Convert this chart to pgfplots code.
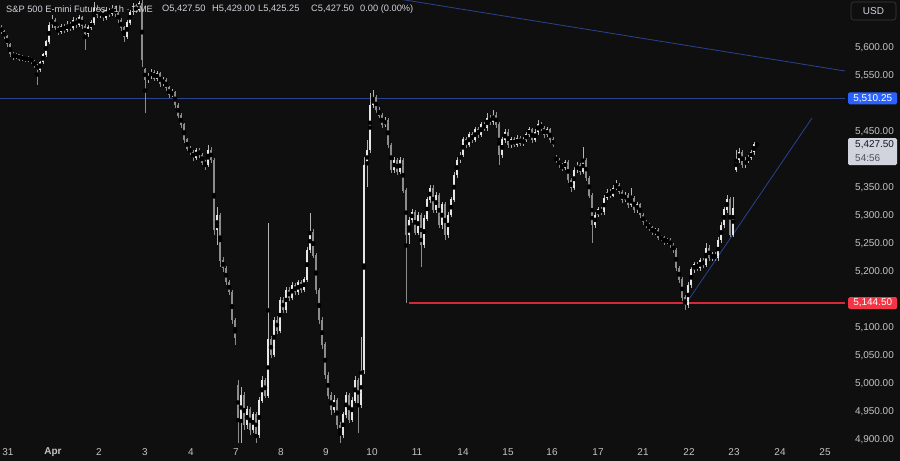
\documentclass[border=0pt]{standalone}
\usepackage{pgfplots}
\pgfplotsset{compat=1.18}
\usepackage{pgfplotstable}
\usepackage{fontspec}
\setmainfont{Liberation Sans}
\definecolor{bg}{HTML}{0F0F0F}
\definecolor{txt}{HTML}{D1D4DC}
\definecolor{axtxt}{HTML}{C4C4C4}
\definecolor{upc}{HTML}{E6E6E6}
\definecolor{upw}{HTML}{B4B4B4}
\definecolor{dnc}{HTML}{8C8C8C}
\definecolor{hline}{HTML}{2A4290}
\definecolor{supportred}{RGB}{214,40,56}
\definecolor{tagblue}{HTML}{2962FF}
\definecolor{tagred}{HTML}{F23645}
\definecolor{taggray}{HTML}{D1D4DC}
\definecolor{tagtxt}{HTML}{131722}
\definecolor{boxc}{HTML}{3A3A3A}

\pgfplotstableread{
x o h l c
1 5636 5641 5625 5629
4 5629 5632 5616 5621
7 5621 5623 5602 5607
10 5607 5609 5584 5589
13 5589 5593 5579 5584
16 5584 5591 5580 5588
19 5588 5590 5577 5580
22 5580 5588 5577 5584
25 5584 5586 5575 5579
28 5579 5586 5575 5582
31 5582 5584 5572 5577
34 5577 5579 5564 5568
37 5568 5571 5534 5562
40 5562 5577 5557 5575
43 5575 5591 5572 5588
46 5588 5614 5584 5611
49 5611 5646 5607 5641
52 5641 5659 5636 5650
55 5650 5654 5632 5636
58 5636 5639 5623 5629
61 5629 5643 5625 5639
64 5639 5643 5627 5632
67 5632 5648 5629 5643
70 5643 5646 5630 5636
73 5636 5655 5632 5650
76 5650 5654 5636 5641
79 5641 5659 5638 5654
82 5654 5657 5634 5639
85 5639 5643 5596 5625
88 5625 5641 5620 5636
91 5636 5650 5632 5646
94 5646 5682 5641 5671
97 5671 5677 5654 5659
100 5659 5670 5654 5664
103 5664 5668 5648 5654
106 5654 5673 5650 5668
109 5668 5671 5656 5661
112 5661 5677 5657 5671
115 5671 5675 5655 5661
118 5661 5664 5645 5650
121 5650 5654 5630 5636
124 5636 5639 5611 5621
127 5621 5650 5616 5646
130 5646 5668 5641 5664
133 5664 5680 5659 5675
136 5675 5679 5663 5668
139 5668 5684 5664 5679
142 5679 5690 5566 5579
145 5561 5564 5484 5543
148 5543 5555 5538 5550
151 5550 5562 5545 5557
154 5557 5560 5541 5546
157 5546 5559 5541 5554
160 5554 5557 5530 5536
163 5536 5548 5532 5543
166 5543 5546 5523 5529
169 5529 5532 5511 5516
172 5516 5527 5512 5521
175 5521 5523 5493 5498
178 5498 5502 5475 5480
181 5480 5484 5457 5463
184 5463 5466 5430 5436
187 5436 5439 5416 5421
190 5421 5425 5409 5414
193 5414 5418 5398 5404
196 5404 5421 5400 5418
199 5418 5421 5404 5409
202 5409 5413 5391 5396
205 5396 5400 5382 5391
208 5391 5427 5388 5418
211 5418 5423 5395 5400
214 5400 5404 5266 5275
217 5275 5316 5248 5302
220 5302 5305 5209 5221
223 5221 5227 5200 5207
226 5207 5211 5177 5182
229 5182 5186 5159 5164
232 5164 5168 5107 5114
235 5114 5118 5070 5082
238 4998 5007 4864 4936
241 4936 4995 4873 4980
244 4980 4986 4918 4927
247 4927 4960 4920 4954
250 4954 4959 4909 4918
253 4918 4950 4913 4945
256 4945 4950 4864 4909
259 4909 4977 4904 4971
262 4971 5014 4966 5007
265 5007 5011 4975 4980
268 4980 5288 4975 5079
271 5079 5086 5046 5052
274 5052 5120 5048 5114
277 5114 5121 5090 5096
280 5096 5155 5091 5150
283 5150 5155 5127 5132
286 5132 5173 5127 5168
289 5168 5173 5148 5154
292 5154 5182 5150 5177
295 5177 5180 5159 5164
298 5164 5186 5159 5182
301 5182 5186 5163 5168
304 5168 5191 5164 5186
307 5186 5245 5182 5239
310 5239 5305 5234 5271
313 5271 5277 5225 5230
316 5230 5234 5161 5168
319 5168 5172 5107 5114
322 5114 5120 5063 5070
325 5070 5075 5009 5016
328 5016 5022 4973 4980
331 4980 4986 4945 4954
334 4954 4980 4948 4971
337 4971 4975 4920 4927
340 4927 4932 4891 4909
343 4909 4950 4904 4945
346 4945 4986 4940 4980
349 4980 4984 4930 4936
352 4936 4977 4932 4971
355 4971 5014 4966 5007
358 5007 5011 4913 4963
361 4963 5084 4957 5025
364 5025 5405 5018 5391
367 5391 5436 5352 5418
370 5418 5520 5413 5498
373 5498 5525 5493 5511
376 5511 5516 5484 5489
379 5489 5495 5475 5480
382 5480 5484 5457 5463
385 5463 5477 5459 5471
388 5471 5475 5421 5427
391 5427 5430 5377 5382
394 5382 5405 5377 5400
397 5400 5404 5373 5379
400 5379 5405 5375 5400
403 5400 5404 5341 5346
406 5346 5350 5144.5 5266
409 5266 5298 5250 5293
412 5293 5312 5288 5307
415 5307 5311 5266 5271
418 5271 5307 5266 5302
421 5302 5305 5209 5248
424 5248 5302 5243 5296
427 5296 5334 5291 5329
430 5329 5355 5323 5350
433 5350 5355 5305 5311
436 5311 5343 5305 5337
439 5337 5341 5279 5284
442 5284 5325 5277 5320
445 5320 5325 5257 5266
448 5266 5307 5261 5302
451 5302 5334 5298 5329
454 5329 5379 5325 5373
457 5373 5405 5368 5400
460 5400 5414 5395 5409
463 5409 5441 5405 5436
466 5436 5441 5421 5427
469 5427 5450 5423 5445
472 5445 5450 5430 5436
475 5436 5459 5432 5454
478 5454 5459 5439 5445
481 5445 5468 5441 5463
484 5463 5468 5452 5457
487 5457 5484 5452 5475
490 5475 5480 5463 5468
493 5468 5489 5463 5480
496 5480 5486 5457 5463
499 5463 5468 5391 5409
502 5409 5441 5404 5436
505 5436 5455 5430 5450
508 5450 5455 5421 5427
511 5427 5441 5421 5436
514 5436 5441 5423 5427
517 5427 5445 5423 5439
520 5439 5443 5425 5430
523 5430 5441 5425 5436
526 5436 5450 5432 5445
529 5445 5459 5441 5454
532 5454 5457 5430 5436
535 5436 5455 5432 5450
538 5450 5471 5445 5463
541 5463 5468 5452 5457
544 5457 5461 5439 5445
547 5445 5459 5441 5454
550 5454 5457 5430 5436
553 5436 5441 5423 5427
556 5404 5409 5395 5400
559 5400 5404 5386 5391
562 5391 5395 5380 5386
565 5386 5400 5382 5396
568 5396 5400 5359 5364
571 5364 5368 5343 5350
574 5350 5388 5346 5382
577 5382 5396 5377 5391
580 5391 5395 5373 5379
583 5379 5423 5375 5400
586 5400 5404 5363 5368
589 5368 5371 5332 5337
592 5337 5341 5252 5284
595 5284 5307 5279 5302
598 5302 5316 5298 5311
601 5311 5316 5302 5307
604 5307 5337 5302 5332
607 5332 5348 5328 5343
610 5343 5348 5332 5337
613 5337 5355 5334 5350
616 5350 5364 5346 5355
619 5355 5359 5339 5343
622 5343 5346 5323 5329
625 5329 5343 5325 5337
628 5337 5341 5314 5320
631 5320 5350 5316 5332
634 5332 5336 5305 5311
637 5311 5325 5305 5320
640 5320 5323 5296 5302
643 5302 5305 5284 5289
646 5289 5293 5279 5284
649 5284 5288 5273 5279
652 5279 5282 5266 5271
655 5271 5279 5266 5275
658 5275 5279 5257 5262
661 5262 5266 5255 5261
664 5261 5264 5248 5254
667 5254 5261 5250 5257
670 5257 5261 5243 5248
673 5248 5252 5234 5239
676 5239 5243 5202 5207
679 5207 5211 5180 5186
682 5186 5191 5148 5154
685 5154 5159 5132 5141
688 5141 5182 5136 5177
691 5177 5209 5172 5204
694 5204 5218 5198 5213
697 5213 5218 5202 5207
700 5207 5225 5202 5221
703 5221 5225 5207 5213
706 5213 5252 5209 5243
709 5243 5248 5220 5225
712 5225 5236 5220 5230
715 5230 5236 5220 5225
718 5225 5262 5220 5257
721 5257 5289 5252 5284
724 5284 5316 5279 5311
727 5311 5337 5305 5329
730 5329 5334 5262 5266
733 5266 5334 5262 5314
736 5382 5418 5379 5400
739 5400 5421 5395 5414
742 5414 5418 5386 5391
745 5391 5405 5386 5400
748 5400 5409 5395 5404
751 5404 5418 5400 5414
754 5414 5432 5409 5427.5
757 5427.5 5429 5425.25 5427.5
}\candles

\pgfplotsset{
  candle/.style 2 args={only marks, mark=none, forget plot,
    error bars/y dir=both, error bars/y explicit, error bars/error mark=none,
    error bars/error bar style={line width=#1, draw=#2, solid}},
}

\begin{document}
\begin{tikzpicture}
\fill[bg] (0,0) rectangle (900bp,461bp);
\begin{axis}[
  at={(0bp,18bp)}, anchor=south west,
  scale only axis, width=845bp, height=443bp,
  xmin=0, xmax=845, ymin=4894.64, ymax=5685.71,
  axis line style={draw=none}, major tick length=0pt,
  xtick={8,53,99,145,191,236,281,326,372,417,463,508,552,598,643,689,734,780,825},
  xticklabels={31,\textbf{Apr},2,3,4,7,8,9,10,11,14,15,16,17,21,22,23,24,25},
  xticklabel style={text=axtxt, font=\fontsize{10}{12}\selectfont, anchor=center, yshift=-9bp},
  ytick={4900,4950,5000,5050,5100,5200,5250,5300,5350,5450,5550,5600},
  yticklabel pos=right,
  yticklabel style={text=axtxt, font=\fontsize{10}{12}\selectfont, anchor=west, xshift=6.5bp},
  scaled y ticks=false,
  y tick label style={/pgf/number format/.cd, fixed, fixed zerofill, precision=2, 1000 sep={,}, assume math mode=true},
  clip=true,
]
% horizontal and trend lines
\addplot[draw=hline, line width=0.9bp, forget plot] coordinates {(0,5510.25) (845,5510.25)};
\addplot[color=supportred, draw=supportred, line width=1.4bp, forget plot] coordinates {(409,5144.5) (845,5144.5)};
\addplot[draw=hline, line width=0.8bp, forget plot] coordinates {(380,5692.9) (845,5558.9)};
\addplot[draw=hline, line width=0.8bp, forget plot] coordinates {(685,5141) (812,5475)};
% wicks
\addplot[candle={0.7bp}{upw}, restrict expr to domain={\thisrow{c}-\thisrow{o}}{0:2000}]
  table[x=x, y expr={0.5*(\thisrow{h}+\thisrow{l})}, y error expr={0.5*(\thisrow{h}-\thisrow{l})}] {\candles};
\addplot[candle={0.7bp}{dnc}, restrict expr to domain={\thisrow{c}-\thisrow{o}}{-2000:-0.001}]
  table[x=x, y expr={0.5*(\thisrow{h}+\thisrow{l})}, y error expr={0.5*(\thisrow{h}-\thisrow{l})}] {\candles};
% bodies
\addplot[candle={2.3bp}{upc}, restrict expr to domain={\thisrow{c}-\thisrow{o}}{0:2000}]
  table[x=x, y expr={0.5*(\thisrow{o}+\thisrow{c})}, y error expr={0.5*(\thisrow{c}-\thisrow{o})+0.6}] {\candles};
\addplot[candle={2.3bp}{dnc}, restrict expr to domain={\thisrow{c}-\thisrow{o}}{-2000:-0.001}]
  table[x=x, y expr={0.5*(\thisrow{o}+\thisrow{c})}, y error expr={0.5*(\thisrow{o}-\thisrow{c})+0.6}] {\candles};
\coordinate (tagB) at (axis cs:845,5510.25);
\coordinate (tagR) at (axis cs:845,5144.5);
\coordinate (tagG) at (axis cs:845,5427.5);
\end{axis}
% price tags
\node[fill=tagblue, text=white, rounded corners=1.5bp, inner sep=0pt, minimum width=49bp, minimum height=12bp, anchor=west, font=\fontsize{10}{12}\selectfont] at ([xshift=3bp]tagB) {5,510.25};
\node[fill=tagred, text=white, rounded corners=1.5bp, inner sep=0pt, minimum width=49bp, minimum height=12bp, anchor=west, font=\fontsize{10}{12}\selectfont] at ([xshift=3bp]tagR) {5,144.50};
\fill[taggray, rounded corners=1.5bp] ([xshift=3bp,yshift=6.5bp]tagG) rectangle ++(49bp,-27bp);
\node[anchor=west, inner sep=0pt, text=tagtxt, font=\fontsize{10}{12}\selectfont] at ([xshift=10bp]tagG) {5,427.50};
\node[anchor=west, inner sep=0pt, text=tagtxt!75!white, font=\fontsize{10}{12}\selectfont] at ([xshift=10bp,yshift=-13bp]tagG) {54:56};
% USD box
\draw[draw=boxc, fill=bg, rounded corners=3bp, line width=0.6bp] (851bp,441bp) rectangle (896bp,459bp);
\node[text=txt, font=\fontsize{10}{12}\selectfont] at (873.5bp,450bp) {USD};
% title legend
\begin{scope}[every node/.style={anchor=west, inner sep=0pt, text=txt, font=\fontsize{9.3}{11}\selectfont}]
\node at (6bp,452bp) {S\&P 500 E-mini Futures · 1h · CME};
\node at (162bp,452bp) {O5,427.50};
\node at (212bp,452bp) {H5,429.00};
\node at (258bp,452bp) {L5,425.25};
\node at (311bp,452bp) {C5,427.50};
\node at (360bp,452bp) {0.00 (0.00\%)};
\end{scope}
\pgfresetboundingbox
\path[use as bounding box] (0,0) rectangle (900bp,461bp);
\end{tikzpicture}
\end{document}
